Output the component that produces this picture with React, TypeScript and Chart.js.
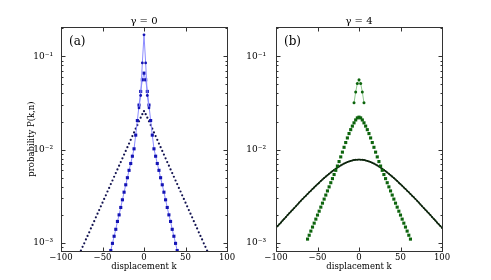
import React, { useEffect, useRef } from "react";
import { Chart, registerables } from "chart.js";
Chart.register(...registerables);

// ---------- data ----------
const X_TICKS = [-100, -50, 0, 50, 100];
const Y_TICKS = [1e-3, 1e-2, 1e-1];
const Y_TICK_LABELS = ["10\u207B\u00B3", "10\u207B\u00B2", "10\u207B\u00B9"];
const X_TICK_LABELS = ["\u2212100", "\u221250", "0", "50", "100"];

const range = (a: number, b: number, s: number) => {
  const r: number[] = [];
  for (let v = a; v <= b; v += s) r.push(v);
  return r;
};

// panel (a), gamma = 0
const kA0 = range(-6, 6, 2);
const pA0 = [0.028, 0.038, 0.085, 0.17, 0.085, 0.038, 0.028];

const kA1 = range(-40, 40, 2);
const pA1 = [0.00083, 0.00099, 0.00118, 0.0014, 0.0017, 0.002, 0.0024, 0.0029, 0.0035, 0.0042, 0.005, 0.006, 0.0071, 0.0085, 0.0102, 0.0143, 0.0205, 0.03, 0.042, 0.056,
  0.066,
  0.056, 0.042, 0.03, 0.0205, 0.0143, 0.0102, 0.0085, 0.0071, 0.006, 0.005, 0.0042, 0.0035, 0.0029, 0.0024, 0.002, 0.0017, 0.0014, 0.00118, 0.00099, 0.00083];

const kA2 = range(-80, 80, 2);
const pA2 = [0.00069, 0.00075, 0.00083, 0.00091, 0.00099, 0.00109, 0.00119, 0.0013, 0.00143, 0.00156, 0.00171, 0.00188, 0.00206, 0.00225, 0.00247, 0.0027, 0.00296, 0.00324, 0.00356, 0.00389, 0.00427, 0.00467, 0.00512, 0.00561, 0.00614, 0.00673, 0.00736, 0.00807, 0.00885, 0.00968, 0.01062, 0.01161, 0.01274, 0.01396, 0.01528, 0.01675, 0.01832, 0.0201, 0.022, 0.024,
  0.0258,
  0.024, 0.022, 0.0201, 0.01832, 0.01675, 0.01528, 0.01396, 0.01274, 0.01161, 0.01062, 0.00968, 0.00885, 0.00807, 0.00736, 0.00673, 0.00614, 0.00561, 0.00512, 0.00467, 0.00427, 0.00389, 0.00356, 0.00324, 0.00296, 0.0027, 0.00247, 0.00225, 0.00206, 0.00188, 0.00171, 0.00156, 0.00143, 0.0013, 0.00119, 0.00109, 0.00099, 0.00091, 0.00083, 0.00075, 0.00069];

// panel (b), gamma = 4
const kB0 = range(-6, 6, 2);
const pB0 = [0.0317, 0.0415, 0.051, 0.056, 0.051, 0.0415, 0.0317];

const kB1 = range(-62, 62, 2);
const pB1 = [0.0011, 0.00121, 0.00134, 0.00148, 0.00163, 0.0018, 0.00199, 0.00219, 0.00242, 0.00267, 0.00295, 0.00326, 0.00361, 0.00399, 0.00442, 0.00489, 0.00541, 0.006, 0.00667, 0.00745, 0.00836, 0.0094, 0.01059, 0.01191, 0.01334, 0.01486, 0.01637, 0.01786, 0.01936, 0.0208, 0.02188,
  0.02228,
  0.02188, 0.0208, 0.01936, 0.01786, 0.01637, 0.01486, 0.01334, 0.01191, 0.01059, 0.0094, 0.00836, 0.00745, 0.00667, 0.006, 0.00541, 0.00489, 0.00442, 0.00399, 0.00361, 0.00326, 0.00295, 0.00267, 0.00242, 0.00219, 0.00199, 0.0018, 0.00163, 0.00148, 0.00134, 0.00121, 0.0011];

const kB2 = range(-100, 100, 2);
const pB2 = [0.00145, 0.00152, 0.00159, 0.00166, 0.00174, 0.00182, 0.0019, 0.00199, 0.00208, 0.00217, 0.00227, 0.00237, 0.00248, 0.00259, 0.00271, 0.00283, 0.00295, 0.00308, 0.00321, 0.00335, 0.00349, 0.00363, 0.00379, 0.00394, 0.0041, 0.00426, 0.00443, 0.0046, 0.00478, 0.00496, 0.00514, 0.00532, 0.00551, 0.00569, 0.00588, 0.00606, 0.00624, 0.00642, 0.0066, 0.00677, 0.00693, 0.00708, 0.00722, 0.00735, 0.00747, 0.00757, 0.00766, 0.00773, 0.00778, 0.00781,
  0.00782,
  0.00781, 0.00778, 0.00773, 0.00766, 0.00757, 0.00747, 0.00735, 0.00722, 0.00708, 0.00693, 0.00677, 0.0066, 0.00642, 0.00624, 0.00606, 0.00588, 0.00569, 0.00551, 0.00532, 0.00514, 0.00496, 0.00478, 0.0046, 0.00443, 0.00426, 0.0041, 0.00394, 0.00379, 0.00363, 0.00349, 0.00335, 0.00321, 0.00308, 0.00295, 0.00283, 0.00271, 0.00259, 0.00248, 0.00237, 0.00227, 0.00217, 0.00208, 0.00199, 0.0019, 0.00182, 0.00174, 0.00166, 0.00159, 0.00152, 0.00145];

const Y_MIN = 8.2e-4;
const Y_MAX = 0.206;

const xy = (ks: number[], vs: number[]) => ks.map((k, i) => ({ x: k, y: vs[i] }));

const FONT = "'DejaVu Serif', serif";

function makeFramePlugin(title: string, tag: string) {
  return {
    id: "frame",
    afterDraw(chart: any) {
      const { ctx, chartArea: a, scales } = chart;
      const xs = scales.x, ys = scales.y;
      ctx.save();
      ctx.strokeStyle = "#333";
      ctx.lineWidth = 1;
      const L = Math.round(a.left) + 0.5, R = Math.round(a.right) + 0.5;
      const T = Math.round(a.top) + 0.5, B = Math.round(a.bottom) + 0.5;
      ctx.strokeRect(L, T, R - L, B - T);
      ctx.beginPath();
      X_TICKS.forEach((v) => {
        const px = Math.round(xs.getPixelForValue(v)) + 0.5;
        ctx.moveTo(px, B); ctx.lineTo(px, B - 4);
        ctx.moveTo(px, T); ctx.lineTo(px, T + 4);
      });
      for (let e = -4; e <= 0; e++) {
        for (let m = 1; m <= 9; m++) {
          const v = m * Math.pow(10, e);
          if (v < Y_MIN || v > Y_MAX) continue;
          const py = Math.round(ys.getPixelForValue(v)) + 0.5;
          const len = m === 1 ? 4 : 2;
          ctx.moveTo(L, py); ctx.lineTo(L + len, py);
          ctx.moveTo(R, py); ctx.lineTo(R - len, py);
        }
      }
      ctx.stroke();
      ctx.fillStyle = "#000";
      ctx.font = `10px ${FONT}`;
      ctx.textAlign = "center";
      ctx.textBaseline = "middle";
      ctx.fillText(title, (a.left + a.right) / 2, 21);
      ctx.font = `12px ${FONT}`;
      ctx.textAlign = "left";
      ctx.fillText(tag, a.left + 8, 42);
      ctx.restore();
    },
  };
}

type PanelProps = {
  left: number;
  width: number;
  yWidth: number;
  padRight: number;
  yTickPad: number;
  yTitle: string | null;
  title: string;
  tag: string;
  datasets: any[];
};

function Panel(p: PanelProps) {
  const ref = useRef<HTMLCanvasElement | null>(null);
  useEffect(() => {
    if (!ref.current) return;
    const chart = new Chart(ref.current, {
      type: "scatter",
      data: { datasets: p.datasets },
      options: {
        animation: false,
        responsive: false,
        maintainAspectRatio: false,
        devicePixelRatio: 1,
        layout: { padding: { top: 27, right: p.padRight, left: 0, bottom: 0 } },
        plugins: { legend: { display: false }, tooltip: { enabled: false } },
        scales: {
          x: {
            type: "linear",
            min: -100,
            max: 100,
            afterBuildTicks: (s: any) => { s.ticks = X_TICKS.map((v) => ({ value: v })); },
            afterFit: (s: any) => { s.height = 29; },
            ticks: {
              autoSkip: false,
              maxRotation: 0,
              padding: 2,
              color: "#000",
              font: { family: FONT, size: 8.5 },
              callback: (v: any) => X_TICK_LABELS[X_TICKS.indexOf(Number(v))] ?? "",
            },
            grid: { display: false, drawTicks: false },
            border: { display: false },
            title: { display: true, text: "displacement k", color: "#000", font: { family: FONT, size: 8.5 }, padding: { top: 0, bottom: 8 } },
          },
          y: {
            type: "logarithmic",
            min: Y_MIN,
            max: Y_MAX,
            afterBuildTicks: (s: any) => { s.ticks = Y_TICKS.map((v) => ({ value: v })); },
            afterFit: (s: any) => { s.width = p.yWidth; },
            ticks: {
              autoSkip: false,
              padding: p.yTickPad,
              color: "#000",
              font: { family: FONT, size: 9 },
              callback: (v: any) => {
                const i = Y_TICKS.findIndex((t) => Math.abs(t - Number(v)) / t < 1e-6);
                return i >= 0 ? Y_TICK_LABELS[i] : "";
              },
            },
            grid: { display: false, drawTicks: false },
            border: { display: false },
            title: p.yTitle
              ? { display: true, text: p.yTitle, color: "#000", font: { family: FONT, size: 8.5 }, padding: { top: 27, bottom: 0 } }
              : { display: false },
          },
        },
      } as any,
      plugins: [makeFramePlugin(p.title, p.tag)],
    });
    return () => chart.destroy();
  }, []);
  return (
    <canvas
      ref={ref}
      width={p.width}
      height={280}
      style={{ position: "absolute", left: p.left, top: 0, width: p.width, height: 280 }}
    />
  );
}

const BLUE = "#1414b4";
const BLUE_LINE = "#8c8cff";
const NAVY = "#121250";
const GREEN = "#0d640d";
const GREEN_LINE = "#8cc88c";
const DARK = "#0c240c";

const datasetsA = [
  { data: xy(kA0, pA0), showLine: true, borderColor: BLUE_LINE, borderWidth: 1, pointRadius: 1.4, pointBackgroundColor: BLUE, pointBorderWidth: 0, order: 0 },
  { data: xy(kA1, pA1), showLine: true, borderColor: BLUE_LINE, borderWidth: 1, pointStyle: "rect", pointRadius: 2.2, pointBackgroundColor: BLUE, pointBorderWidth: 0, order: 1 },
  { data: xy(kA2, pA2), showLine: false, pointRadius: 1.1, pointBackgroundColor: NAVY, pointBorderWidth: 0, order: 2 },
];

const datasetsB = [
  { data: xy(kB0, pB0), showLine: true, borderColor: GREEN_LINE, borderWidth: 1, pointRadius: 1.5, pointBackgroundColor: GREEN, pointBorderWidth: 0, order: 0 },
  { data: xy(kB1, pB1), showLine: false, pointStyle: "rect", pointRadius: 2.2, pointBackgroundColor: GREEN, pointBorderWidth: 0, order: 1 },
  { data: xy(kB2, pB2), showLine: true, borderColor: DARK, borderWidth: 1.4, pointRadius: 1.0, pointBackgroundColor: DARK, pointBorderWidth: 0, order: 2 },
];

export default function App() {
  return (
    <div style={{ position: "fixed", left: 0, top: 0, width: 491, height: 280, background: "#fff" }}>
      <Panel left={0} width={245} yWidth={61} padRight={18} yTickPad={8} yTitle="probability P(k,n)" title="γ = 0" tag="(a)" datasets={datasetsA} />
      <Panel left={245} width={246} yWidth={31} padRight={49} yTickPad={10} yTitle={null} title="γ = 4" tag="(b)" datasets={datasetsB} />
    </div>
  );
}
